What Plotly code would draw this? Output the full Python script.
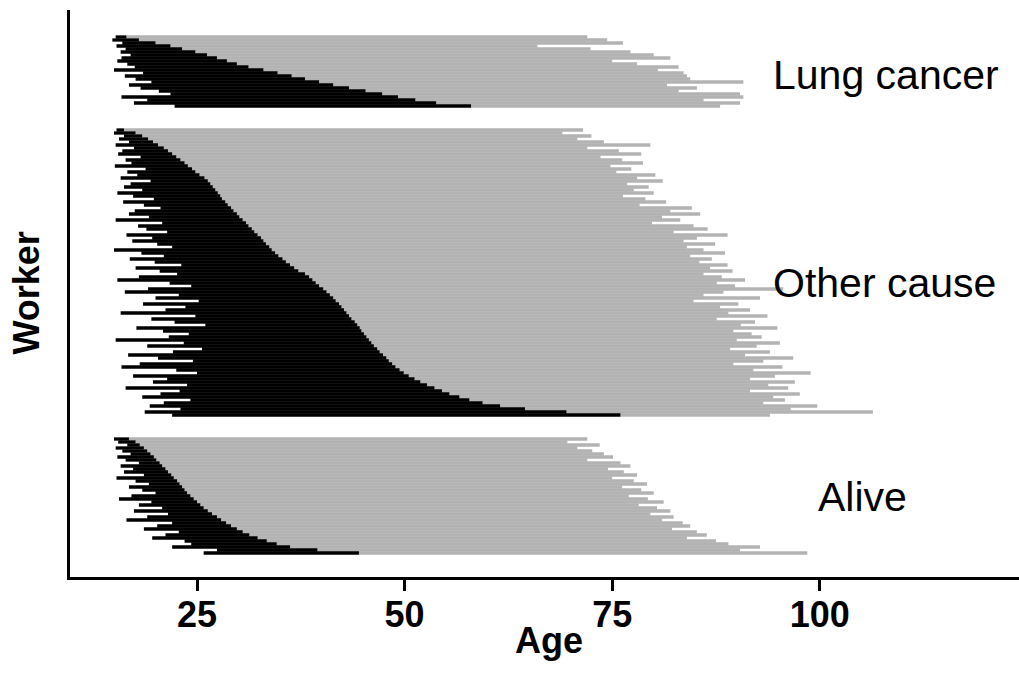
import plotly.graph_objects as go

# ---------------- data (ages) ----------------
groups = ["Lung cancer", "Other cause", "Alive"]

# Lung cancer deaths: age at hire, age at leaving work, age at end of follow-up
lung_start = [15.2, 14.8, 16.0, 15.3, 16.4, 15.8, 17.0, 15.9, 15.4, 16.6,
              17.5, 15.0, 18.5, 16.3, 17.6, 19.5, 16.8, 18.2, 20.4, 21.8,
              15.9, 19.0, 17.4, 22.3]
lung_leave = [16.5, 18.0, 20.0, 21.8, 23.2, 24.8, 26.2, 27.4, 28.6, 29.8,
              31.2, 33.0, 34.7, 36.4, 38.0, 39.7, 41.4, 43.3, 45.3, 47.3,
              49.2, 51.3, 53.8, 58.0]
lung_end = [72.0, 74.4, 76.3, 66.0, 72.4, 77.2, 80.0, 82.0, 75.0, 78.0,
            83.0, 80.5, 83.6, 84.0, 84.4, 90.8, 81.6, 85.2, 83.0, 90.4,
            90.8, 86.0, 90.4, 88.0]

# Other-cause deaths
other_start = [15.3, 15.0, 16.2, 15.6, 16.8, 15.2, 17.4, 16.0, 15.5, 18.2,
               16.4, 17.1, 15.1, 18.8, 16.6, 17.8, 15.8, 19.4, 17.0, 16.2,
               18.4, 15.4, 17.3, 19.8, 16.1, 18.6, 20.6, 17.5, 16.8, 19.2,
               15.2, 20.8, 17.9, 18.9, 21.4, 16.5, 19.6, 17.2, 20.2, 22.0,
               15.0, 18.3, 21.0, 16.9, 19.9, 23.1, 17.6, 20.5, 22.6, 18.0,
               15.4, 21.7, 24.3, 19.1, 16.3, 22.8, 20.0, 25.2, 18.5, 23.6,
               21.2, 15.8, 24.8, 19.5, 22.3, 26.0, 17.7, 20.9, 24.0, 21.6,
               15.2, 23.4, 19.0, 25.6, 22.1, 16.7, 20.3, 24.5, 18.1, 15.9,
               22.5, 25.0, 17.3, 21.4, 19.7, 23.8, 16.4, 22.9, 20.6, 18.4,
               24.2, 21.0, 19.3, 23.0, 18.7, 22.0]
other_leave = [16.2, 17.6, 18.4, 19.1, 19.7, 20.3, 21.0, 21.5, 22.0, 22.5,
               23.0, 23.5, 23.9, 24.4, 24.8, 25.3, 25.9, 26.3, 26.6, 26.9,
               27.2, 27.5, 27.8, 28.0, 28.4, 28.7, 29.1, 29.4, 29.8, 30.1,
               30.5, 30.9, 31.2, 31.6, 31.9, 32.3, 32.7, 33.0, 33.3, 33.7,
               34.0, 34.4, 34.8, 35.3, 35.7, 36.2, 36.7, 37.2, 38.0, 38.5,
               38.9, 39.3, 39.7, 40.2, 40.6, 41.0, 41.4, 41.7, 42.1, 42.4,
               42.7, 43.0, 43.3, 43.6, 44.0, 44.3, 44.6, 44.8, 45.1, 45.4,
               45.7, 46.0, 46.3, 46.7, 47.0, 47.4, 47.8, 48.1, 48.5, 48.9,
               49.4, 49.9, 50.5, 51.2, 51.9, 52.7, 53.6, 54.5, 55.4, 56.6,
               57.8, 59.4, 61.5, 64.5, 69.5, 76.0]
other_end = [71.5, 69.0, 72.5, 70.8, 74.0, 79.6, 72.0, 75.8, 78.5, 73.6,
             76.2, 78.7, 74.8, 77.3, 75.5, 80.2, 78.0, 81.1, 76.8, 79.4,
             77.6, 80.0, 76.3, 79.0, 81.5, 78.3, 84.6, 82.0, 85.6, 81.0,
             83.2, 79.8, 84.8, 86.5, 82.4, 88.9, 85.2, 83.6, 87.4, 84.0,
             86.0, 88.6, 84.4, 87.0, 85.5, 88.9, 86.8, 89.5, 86.0, 88.2,
             91.0, 87.6, 89.8, 95.6, 88.4, 86.0, 92.8, 84.8, 90.2, 88.0,
             91.6, 89.0, 93.7, 87.6, 92.2, 90.5, 94.9, 89.6, 91.8, 93.0,
             90.0, 95.2, 92.4, 89.2, 94.0, 91.0, 96.8, 93.2, 89.6, 95.5,
             92.0, 98.9, 94.6, 91.6, 97.0, 93.8, 96.2, 91.6, 97.6, 94.4,
             95.8, 93.2, 99.7, 96.5, 106.4, 94.0]

# Alive at end of follow-up
alive_start = [15.0, 15.5, 16.6, 15.2, 16.0, 17.0, 15.4, 16.4, 18.0, 15.8,
               17.3, 16.2, 18.6, 15.3, 17.6, 19.2, 16.8, 18.4, 20.0, 17.1,
               15.6, 19.5, 18.0, 20.8, 17.4, 21.5, 19.0, 16.5, 22.0, 20.2,
               18.6, 22.8, 21.2, 19.6, 23.5, 24.3, 22.0, 27.4, 25.8]
alive_leave = [16.8, 17.6, 18.1, 18.6, 19.0, 19.4, 19.8, 20.1, 20.5, 20.8,
               21.2, 21.5, 21.9, 22.2, 22.6, 22.9, 23.2, 23.5, 23.8, 24.2,
               24.6, 25.0, 25.4, 25.8, 26.3, 26.8, 27.4, 27.9, 28.5, 29.1,
               29.8, 30.5, 31.3, 32.3, 33.4, 34.6, 36.2, 39.5, 44.5]
alive_end = [72.0, 69.6, 73.5, 70.8, 72.6, 74.0, 75.1, 72.0, 76.0, 77.2,
             74.5, 76.4, 78.0, 75.0, 77.6, 79.2, 76.2, 78.5, 80.0, 77.0,
             79.3, 81.2, 78.2, 80.4, 82.0, 79.6, 82.4, 81.0, 83.5, 84.4,
             82.2, 85.2, 86.4, 84.0, 87.5, 89.0, 92.8, 90.4, 98.5]

x_ticks = [25, 50, 75, 100]

# ---------------- build segments ----------------
group_data = [
    (lung_start, lung_leave, lung_end),
    (other_start, other_leave, other_end),
    (alive_start, alive_leave, alive_end),
]
GAP = 7  # empty rows between groups

bx, by, gx, gy = [], [], [], []
centers = []
offset = 0
for starts, leaves, ends in group_data:
    for i, (s, l, e) in enumerate(zip(starts, leaves, ends)):
        r = offset + i
        bx += [s, l, None]
        by += [r, r, None]
        gx += [l, e, None]
        gy += [r, r, None]
    centers.append(offset + (len(starts) - 1) / 2)
    offset += len(starts) + GAP

fig = go.Figure()
fig.add_trace(go.Scatter(x=gx, y=gy, mode="lines",
                         line=dict(color="#b3b3b3", width=3.3),
                         hoverinfo="skip", showlegend=False))
fig.add_trace(go.Scatter(x=bx, y=by, mode="lines",
                         line=dict(color="#000000", width=3.3),
                         hoverinfo="skip", showlegend=False))

FONT = "Liberation Sans, Arial, sans-serif"
label_x = [108.0, 107.8, 105.2]
label_dy = [1.2, 3.5, 0.3]
for name, cx, cy, dy in zip(groups, label_x, centers, label_dy):
    fig.add_annotation(x=cx, y=cy + dy, xref="x", yref="y", text=name,
                       showarrow=False, xanchor="center", yanchor="middle",
                       font=dict(family=FONT, size=41, color="black"))

fig.add_annotation(x=(549 - 70) / (1019 - 70), y=-(640 - 577) / (577 - 10),
                   xref="paper", yref="paper", text="Age", showarrow=False,
                   xanchor="center", yanchor="middle",
                   font=dict(family=FONT, size=36, color="black",
                             weight="bold"))
fig.add_annotation(x=-(70 - 26) / (1019 - 70), y=0.5, xref="paper",
                   yref="paper", text="Worker", showarrow=False,
                   textangle=-90, xanchor="center", yanchor="middle",
                   font=dict(family=FONT, size=36, color="black",
                             weight="bold"))

fig.update_layout(
    width=1019, height=675,
    margin=dict(l=70, r=0, t=10, b=98, pad=0),
    paper_bgcolor="white", plot_bgcolor="white",
    xaxis=dict(range=[9.7, 124.0], tickvals=x_ticks,
               ticktext=[str(t) for t in x_ticks],
               showgrid=False, zeroline=False,
               showline=True, linecolor="black", linewidth=3,
               ticks="outside", ticklen=11, tickwidth=2.5, tickcolor="black",
               ticklabelstandoff=-7,
               tickfont=dict(family=FONT, size=36, color="black",
                             weight="bold")),
    yaxis=dict(range=[180, -9], showgrid=False, zeroline=False,
               showline=True, linecolor="black", linewidth=3,
               showticklabels=False, ticks=""),
)

fig.write_html("out.html")
